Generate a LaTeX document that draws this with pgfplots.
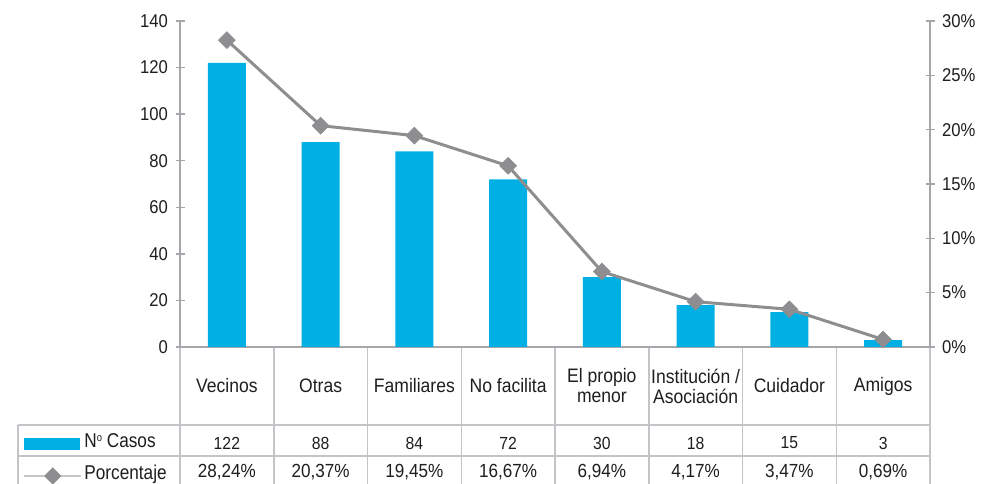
\documentclass[border=0pt]{standalone}
\usepackage{pgfplots}
\pgfplotsset{compat=1.18}
\usepackage{fontspec}
\setmainfont[FakeStretch=0.9]{Liberation Sans}
\newfontfamily\legfont[FakeStretch=0.86]{Liberation Sans}
\definecolor{barc}{RGB}{0,176,228}
\definecolor{linec}{RGB}{142,142,144}
\definecolor{axc}{RGB}{166,166,170}
\definecolor{tabc}{RGB}{196,196,200}
\definecolor{txt}{RGB}{30,30,30}
\pgfplotsset{
  base/.style={
    at={(180pt,137pt)}, anchor=south west,
    width=750pt, height=326pt, scale only axis,
    xmin=-0.5, xmax=7.5, xtick=\empty,
    tick align=center, major tick length=9pt,
    axis line style={-, axc, line width=1.3pt},
    every tick/.style={axc, line width=1.3pt},
    yticklabel style={font=\fontsize{18.5}{20}\selectfont, text=txt},
    /pgf/number format/assume math mode=true,
    clip=false,
  }
}
\begin{document}
\begin{tikzpicture}[x=1pt,y=1pt]
\useasboundingbox (0,0) rectangle (982,484);
% table lines
\draw[tabc, line width=1.5pt] (18,59) -- (930,59);
\draw[tabc, line width=1.5pt] (18,28) -- (930,28);
\draw[tabc, line width=1.5pt] (18,59) -- (18,-2);
\foreach \k in {0,...,8} {
  \draw[tabc, line width=1.5pt] ({180+93.75*\k},137) -- ({180+93.75*\k},-2);
}
\begin{axis}[base,
  ymin=0, ymax=140, ytick={0,20,...,140},
  axis y line*=left, axis x line*=bottom,
  yticklabel style={xshift=-4pt},
  ybar, bar width=38pt,
]
\addplot[fill=barc, draw=none] coordinates {(0,122)(1,88)(2,84)(3,72)(4,30)(5,18)(6,15)(7,3)};
\end{axis}
\begin{axis}[base,
  ymin=0, ymax=30, ytick={0,5,...,30},
  axis y line*=right, axis x line=none,
  yticklabel={\pgfmathprintnumber{\tick}\%},
  yticklabel style={xshift=4pt},
  legend style={at={(axis description cs:-0.2093,-0.348)}, anchor=west,
    draw=none, fill=none, font=\legfont\fontsize{20}{22}\selectfont, text=txt,
    row sep=17pt, column sep=3pt, inner sep=0pt,
    nodes={inner sep=0pt, text height=11pt, text depth=3pt}},
  legend cell align=left,
]
\addlegendimage{legend image code/.code={\fill[barc] (0pt,-5.5pt) rectangle (55pt,5.5pt);}}
\addlegendentry{N\raisebox{6pt}{\fontsize{11}{11}\selectfont o} Casos}
\addplot[linec, line width=3pt, mark=square*, mark size=6pt,
  mark options={rotate=45, fill=linec, draw=linec, line width=0.5pt},
  legend image code/.code={
    \draw[tabc, line width=1.2pt] (0pt,0pt) -- (57pt,0pt);
    \draw[linec, fill=linec, rotate around={45:(29pt,0pt)}] (24.4pt,-4.6pt) rectangle (33.6pt,4.6pt);
  }] coordinates {(0,28.24)(1,20.37)(2,19.45)(3,16.67)(4,6.94)(5,4.17)(6,3.47)(7,0.69)};
\addlegendentry{Porcentaje}
\end{axis}
% category labels and values
\begin{scope}[every node/.style={text=txt, align=center}]
\foreach \lab [count=\i from 0] in {Vecinos,Otras,Familiares,No facilita,El propio\\menor,Institución /\\Asociación,Cuidador,Amigos} {
  \node[font=\fontsize{19.5}{20}\selectfont] at ({180+93.75*(\i+0.5)},98) {\lab};
}
\foreach \v [count=\i from 0] in {122,88,84,72,30,18,15,3} {
  \node[font=\fontsize{17.5}{19}\selectfont] at ({180+93.75*(\i+0.5)},41) {\v};
}
\foreach \v [count=\i from 0] in {{28,24\%},{20,37\%},{19,45\%},{16,67\%},{6,94\%},{4,17\%},{3,47\%},{0,69\%}} {
  \node[font=\fontsize{19}{21}\selectfont] at ({180+93.75*(\i+0.5)},11.5) {\v};
}
\end{scope}
\end{tikzpicture}
\end{document}
